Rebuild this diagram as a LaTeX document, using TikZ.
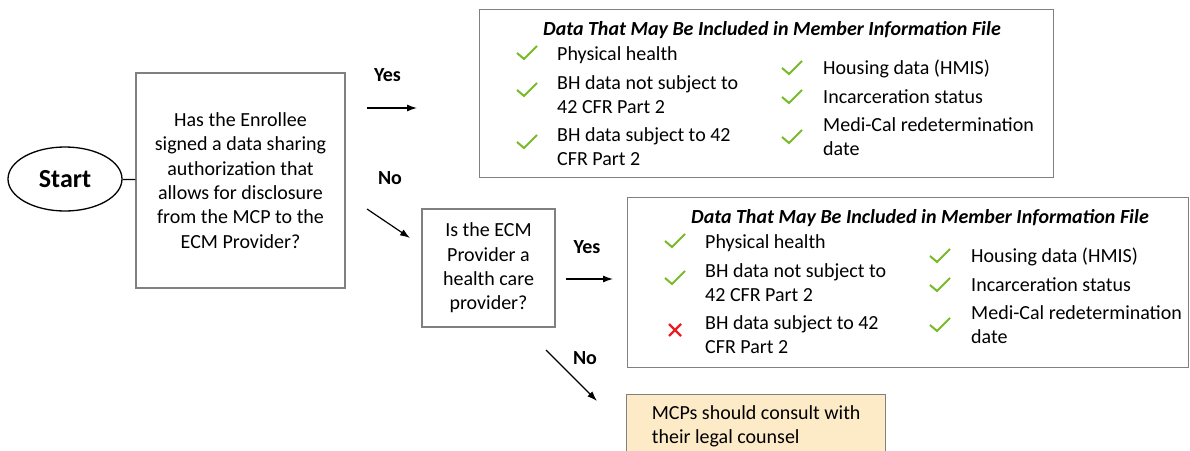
\documentclass[tikz,border=0pt]{standalone}
\usepackage{fontspec}
\setmainfont{Carlito}
\usetikzlibrary{calc}
\usetikzlibrary{positioning}
\usetikzlibrary{shapes.geometric}
\usetikzlibrary{arrows.meta}

\definecolor{framegray}{RGB}{128,128,128}
\definecolor{tickgreen}{RGB}{120,186,40}
\definecolor{crossred}{RGB}{235,28,36}
\definecolor{notefill}{RGB}{253,234,198}

\begin{document}
\begin{tikzpicture}[x=1pt, y=-1pt, font=\fontsize{20}{24.4}\selectfont,
  frame/.style={draw=framegray, line width=1.4pt},
  question/.style={frame, align=center, inner sep=0pt},
  answer/.style={font=\fontsize{20}{24.4}\selectfont\bfseries},
  flow/.style={-{Latex[length=10pt, width=7pt]}, line width=1.2pt},
  datatitle/.style={anchor=base, font=\fontsize{20}{24.4}\selectfont\bfseries\itshape},
  dataitem/.style={anchor=base west, align=left, inner sep=0pt},
  okmark/.pic={\draw[tickgreen, line width=2pt] (-10,0) -- (-3,6) -- (10,-7);},
  nomark/.pic={\draw[crossred, line width=2.2pt] (-6,-6) -- (6,6) (-6,6) -- (6,-6);}]

  % Page frame
  \useasboundingbox (0,0) rectangle (1190,450);
  \clip (0,0) rectangle (1190,450);

  % Start and first question
  \node[ellipse, draw, line width=1.3pt, minimum width=114pt, minimum height=64pt,
        inner sep=0pt, font=\fontsize{26}{30}\selectfont\bfseries] (start) at (65,179) {Start};
  \node[question, minimum width=209pt, minimum height=215pt] (enrollee) at (240.5,180.5)
    {Has the Enrollee\\signed a data sharing\\authorization that\\allows for disclosure\\from the MCP to the\\ECM Provider?};
  \draw[line width=1.2pt] (start) -- (enrollee);

  % Second question
  \node[question, minimum width=133pt, minimum height=118pt] (provider) at (488.5,268)
    {Is the ECM\\Provider a\\health care\\provider?};

  % Free arrow ends
  \coordinate (yesA) at (367,108);
  \coordinate (yesA') at (417,108);
  \coordinate (noA) at (367,209);
  \coordinate (noA') at (410,238);
  \coordinate (yesB) at (566,279);
  \coordinate (yesB') at (613,279);
  \coordinate (noB) at (546,350);
  \coordinate (noB') at (597,401);

  % Arrows and their answers
  \draw[flow] (yesA) -- (yesA');
  \draw[flow] (noA) -- (noA');
  \draw[flow] (yesB) -- (yesB');
  \draw[flow] (noB) -- (noB');
  \node[answer] (yesAtext) at (387.5,75) {Yes};
  \node[answer] (noAtext) at (390,178) {No};
  \node[answer] (yesBtext) at (587,247) {Yes};
  \node[answer] (noBtext) at (585,358) {No};

  % Member information file, with authorization
  \node[frame, anchor=north west, minimum width=574pt, minimum height=168pt] (fileA) at (479,9) {};
  \node[datatitle] (fileAtitle) at ($(fileA.north west)+(293,26)$)
    {Data That May Be Included in Member Information File};
  \node[dataitem] (a1) at ($(fileA.north west)+(78,51)$) {Physical health};
  \node[dataitem] (a2) at ($(fileA.north west)+(78,104.5)$) {BH data not subject to\\42 CFR Part 2};
  \node[dataitem] (a3) at ($(fileA.north west)+(78,156.5)$) {BH data subject to 42\\CFR Part 2};
  \node[dataitem] (a4) at ($(fileA.north west)+(344,65.5)$) {Housing data (HMIS)};
  \node[dataitem] (a5) at ($(fileA.north west)+(344,94.5)$) {Incarceration status};
  \node[dataitem] (a6) at ($(fileA.north west)+(344,146.5)$) {Medi-Cal redetermination\\date};
  \pic at ($(fileA.north west)+(48,44)$) {okmark};
  \pic at ($(fileA.north west)+(48,81)$) {okmark};
  \pic at ($(fileA.north west)+(48,133)$) {okmark};
  \pic at ($(fileA.north west)+(313,59)$) {okmark};
  \pic at ($(fileA.north west)+(313,88)$) {okmark};
  \pic at ($(fileA.north west)+(313,128)$) {okmark};

  % Member information file, health care provider
  \node[frame, anchor=north west, minimum width=561pt, minimum height=170pt] (fileB) at (627,197) {};
  \node[datatitle] (fileBtitle) at ($(fileB.north west)+(293,26)$)
    {Data That May Be Included in Member Information File};
  \node[dataitem] (b1) at ($(fileB.north west)+(78,51)$) {Physical health};
  \node[dataitem] (b2) at ($(fileB.north west)+(78,104.5)$) {BH data not subject to\\42 CFR Part 2};
  \node[dataitem] (b3) at ($(fileB.north west)+(78,156.5)$) {BH data subject to 42\\CFR Part 2};
  \node[dataitem] (b4) at ($(fileB.north west)+(344,65.5)$) {Housing data (HMIS)};
  \node[dataitem] (b5) at ($(fileB.north west)+(344,94.5)$) {Incarceration status};
  \node[dataitem] (b6) at ($(fileB.north west)+(344,146.5)$) {Medi-Cal redetermination\\date};
  \pic at ($(fileB.north west)+(48,44)$) {okmark};
  \pic at ($(fileB.north west)+(48,81)$) {okmark};
  \pic at ($(fileB.north west)+(48,133)$) {nomark};
  \pic at ($(fileB.north west)+(313,59)$) {okmark};
  \pic at ($(fileB.north west)+(313,88)$) {okmark};
  \pic at ($(fileB.north west)+(313,128)$) {okmark};

  % Not a health care provider
  \node[frame, fill=notefill, anchor=north west, minimum width=259pt,
        align=left, inner ysep=11pt] (counsel) at (626,394)
    {MCPs should consult with\\their legal counsel};

\end{tikzpicture}
\end{document}
